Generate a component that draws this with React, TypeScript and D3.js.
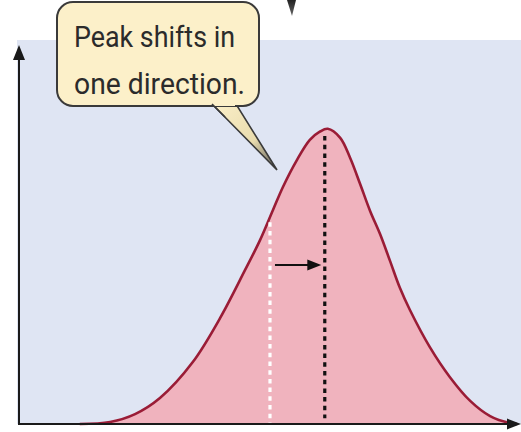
import React from "react";
import * as d3 from "d3";

// Density curve sampled along the horizontal axis (arbitrary units)
const curveX = [1.22, 1.83, 2.33, 2.83, 3.49, 4.04, 4.54, 4.84, 5.1, 5.3, 5.58, 5.84, 6.04, 6.2, 6.45, 6.65, 6.85, 7.05, 7.25, 7.45, 7.65, 7.85, 8.25, 8.65, 9.06, 9.46, 9.86, 10.0];
const curveY = [0, 0.007, 0.034, 0.089, 0.212, 0.363, 0.527, 0.629, 0.732, 0.811, 0.903, 0.972, 1.0, 1.01, 0.979, 0.91, 0.821, 0.729, 0.65, 0.558, 0.465, 0.39, 0.263, 0.161, 0.079, 0.027, 0.003, 0];

// Old and new peak positions, with the height each marker line reaches
const markerNames = ["old", "new"];
const markerX = [5.04, 6.14];
const markerTop = [0.69, 0.985];
const markerBottom = [0, 0.02];

// Shift arrow between the two markers
const arrowFrom = 5.14;
const arrowTo = 6.07;
const arrowLevel = 0.544;

const calloutLines = ["Peak shifts in", "one direction."];
const calloutWidths = [161, 171];

const W = 521;
const H = 432;

export default function App() {
  const x = d3.scaleLinear().domain([0, 10]).range([19, 517]);
  const y = d3.scaleLinear().domain([0, 1.3]).range([424, 44]);

  const pts: [number, number][] = curveX.map((v, i) => [v, curveY[i]]);

  const area = d3
    .area<[number, number]>()
    .x((d) => x(d[0]))
    .y0(y(0))
    .y1((d) => y(d[1]))
    .curve(d3.curveCatmullRom.alpha(0.5));

  const line = d3
    .line<[number, number]>()
    .x((d) => x(d[0]))
    .y((d) => y(d[1]))
    .curve(d3.curveCatmullRom.alpha(0.5));

  const x0 = x(0);
  const yBase = y(0);
  const ax = x(arrowTo);
  const ay = y(arrowLevel);

  return (
    <svg
      width={W}
      height={H}
      style={{ position: "absolute", left: 0, top: 0, background: "#ffffff" }}
    >
      <defs>
        <linearGradient id="tailFill" x1="0" y1="0" x2="1" y2="1">
          <stop offset="0%" stopColor="#fbefc8" />
          <stop offset="60%" stopColor="#e9dcae" />
          <stop offset="100%" stopColor="#555" />
        </linearGradient>
        <linearGradient id="wedgeFill" x1="0" y1="0" x2="0" y2="1">
          <stop offset="0%" stopColor="#222" />
          <stop offset="100%" stopColor="#666" />
        </linearGradient>
      </defs>

      {/* plot background */}
      <rect x={17} y={40} width={W - 17} height={yBase - 40} fill="#dfe5f3" />

      {/* distribution */}
      <path d={area(pts) ?? ""} fill="#f0b3be" />
      <path d={line(pts) ?? ""} fill="none" stroke="#9a1c36" strokeWidth={2.6} />

      {/* peak markers */}
      {markerNames.map((name, i) => (
        <line
          key={name}
          x1={x(markerX[i])}
          x2={x(markerX[i])}
          y1={y(markerTop[i])}
          y2={y(markerBottom[i])}
          stroke={name === "old" ? "#ffffff" : "#111111"}
          strokeWidth={3.2}
          strokeDasharray="4.5,4.2"
        />
      ))}

      {/* shift arrow */}
      <line x1={x(arrowFrom)} x2={ax - 10} y1={ay} y2={ay} stroke="#111" strokeWidth={2} />
      <path d={`M${ax},${ay} L${ax - 14},${ay - 5.5} L${ax - 14},${ay + 5.5} Z`} fill="#111" />

      {/* axes */}
      <line x1={x0} x2={x0} y1={yBase + 1} y2={54} stroke="#1a1a1a" strokeWidth={2} />
      <path d={`M${x0},45 L${x0 - 6},60 L${x0 + 6},60 Z`} fill="#1a1a1a" />
      <line x1={x0 - 1} x2={512} y1={yBase} y2={yBase} stroke="#1a1a1a" strokeWidth={2} />
      <path d={`M${W},${yBase} L${507},${yBase - 5.5} L${507},${yBase + 5.5} Z`} fill="#1a1a1a" />

      {/* pointer fragment at top edge */}
      <path d="M287,0 L296,0 L292,16 Z" fill="url(#wedgeFill)" />

      {/* callout */}
      <path
        d="M212,104 L277,170 L236,104 Z"
        fill="url(#tailFill)"
        stroke="#3a3a3a"
        strokeWidth={1.6}
        strokeLinejoin="miter"
      />
      <rect
        x={57}
        y={2}
        width={202}
        height={104}
        rx={16}
        fill="#fcf0c9"
        stroke="#3a3a3a"
        strokeWidth={2}
      />
      <rect x={213} y={100} width={22} height={6} fill="#fcf0c9" />
      <path d="M212,104 L225,117" stroke="#3a3a3a" strokeWidth={1.6} fill="none" />
      {calloutLines.map((t, i) => (
        <text
          key={t}
          x={74}
          y={47 + i * 47}
          fontFamily="Roboto, 'Liberation Sans', sans-serif"
          fontSize={30}
          fill="#2b2b2b"
          textLength={calloutWidths[i]}
          lengthAdjust="spacingAndGlyphs"
        >
          {t}
        </text>
      ))}
    </svg>
  );
}
